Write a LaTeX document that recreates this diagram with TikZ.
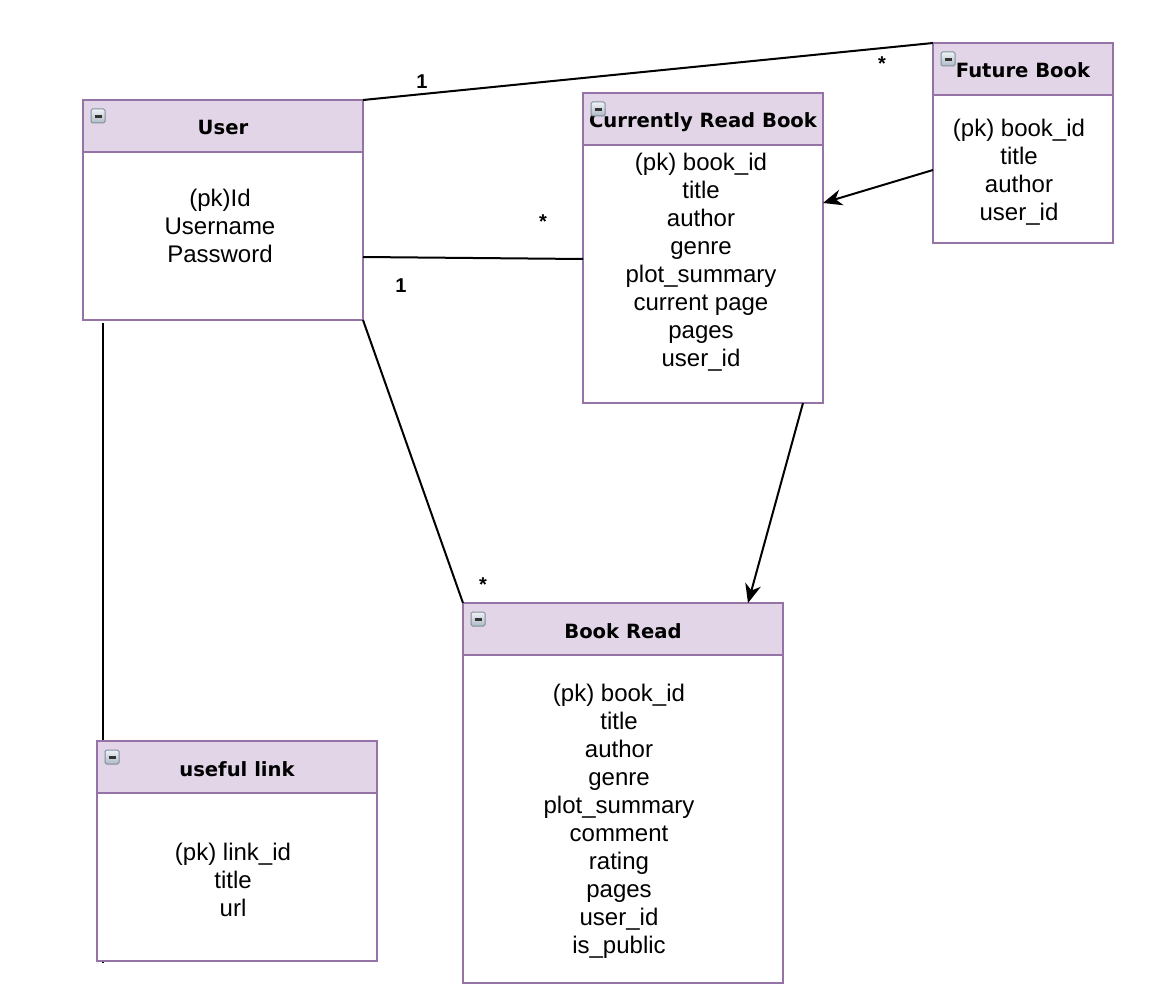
\documentclass[tikz,border=0pt]{standalone}
\usepackage{fontspec}
\setmainfont{Liberation Sans}
\newfontfamily\hdrfont{DejaVu Sans}
\usetikzlibrary{arrows.meta,backgrounds,calc}
\definecolor{hdrfill}{HTML}{E1D5E7}
\definecolor{hdrline}{HTML}{9673A6}
\definecolor{iconline}{HTML}{7F8E9C}
\definecolor{icontop}{HTML}{EEF2F6}
\definecolor{iconbot}{HTML}{AEBAC6}
\tikzset{
  entity/.style={rectangle, draw=hdrline, line width=2pt, fill=white, anchor=north west, inner sep=0pt, outer sep=0pt},
  header/.style={rectangle, draw=hdrline, line width=2pt, fill=hdrfill, anchor=north west, inner sep=0pt, outer sep=0pt, minimum height=52pt},
  title/.style={font=\hdrfont\bfseries\fontsize{19.6}{22}\selectfont, inner sep=0pt, anchor=base},
  body/.style={font=\fontsize{24}{28}\selectfont, align=center, inner sep=0pt},
  mult/.style={font=\bfseries\fontsize{20}{22}\selectfont, inner sep=0pt, anchor=base},
  conn/.style={line width=2pt, draw=black},
  arr/.style={conn, -{Stealth[length=19pt,width=16pt,inset=6pt]}},
  minus/.pic={
    \draw[rounded corners=1.5pt, draw=iconline, line width=1pt, top color=icontop, bottom color=iconbot] (0,0) rectangle (14,14);
    \draw[line width=2.4pt, black!80] (3.5,7.5) -- (10.5,7.5);
  }
}
\begin{document}
\begin{tikzpicture}[x=1pt,y=-1pt]
\useasboundingbox (0,0) rectangle (1156,1006);

% User
\node[entity, minimum width=280pt, minimum height=220pt] (user) at (83,100) {};
\node[header, minimum width=280pt] (userh) at (user.north west) {};
\pic at ($(user.north west)+(8,9)$) {minus};
\node[title] (usert) at ($(user.north)+(0,35)$) {User};
\node[body] (userb) at ($(user.north)+(-3,126)$) {(pk)Id\\Username\\Password};

% Currently Read Book
\node[entity, minimum width=240pt, minimum height=310pt] (crb) at (583,93) {};
\node[header, minimum width=240pt] (crbh) at (crb.north west) {};
\node[title] (crbt) at ($(crb.north)+(0,35)$) {Currently Read Book};
\pic at ($(crb.north west)+(8,9)$) {minus};
\node[body] (crbb) at ($(crb.north)+(-2,169)$) {(pk) book\_id\\title\\author\\genre\\plot\_summary\\current page\\pages\\user\_id};

% Future Book
\node[entity, minimum width=180pt, minimum height=200pt] (fb) at (933,43) {};
\node[header, minimum width=180pt] (fbh) at (fb.north west) {};
\node[title] (fbt) at ($(fb.north)+(0,35)$) {Future Book};
\pic at ($(fb.north west)+(8,9)$) {minus};
\node[body] (fbb) at ($(fb.north)+(-4,129)$) {(pk) book\_id\\title\\author\\user\_id};

% Book Read
\node[entity, minimum width=320pt, minimum height=380pt] (br) at (463,603) {};
\node[header, minimum width=320pt] (brh) at (br.north west) {};
\pic at ($(br.north west)+(8,9)$) {minus};
\node[title] (brt) at ($(br.north)+(0,35)$) {Book Read};
\node[body] (brb) at ($(br.north)+(-4,218)$) {(pk) book\_id\\title\\author\\genre\\plot\_summary\\comment\\rating\\pages\\user\_id\\is\_public};

% useful link
\node[entity, minimum width=280pt, minimum height=220pt] (ul) at (97,741) {};
\node[header, minimum width=280pt] (ulh) at (ul.north west) {};
\pic at ($(ul.north west)+(8,9)$) {minus};
\node[title] (ult) at ($(ul.north)+(0,35)$) {useful link};
\node[body] (ulb) at ($(ul.north)+(-4,139)$) {(pk) link\_id\\title\\url};

% connectors
\begin{scope}[on background layer]
\draw[conn] ([xshift=-120pt,yshift=-3pt]user.south) -- ([xshift=-134pt,yshift=-2pt]ul.south);
\end{scope}
\draw[conn] (user.north east) -- (fb.north west);
\draw[conn] ([yshift=-47pt]user.east) -- ([yshift=-11pt]crb.west);
\draw[conn] (user.south east) -- (br.north west);
\draw[arr] ([yshift=-27pt]fb.west) -- ([yshift=45pt]crb.east);
\draw[arr] ([xshift=100pt]crb.south) -- ([xshift=125pt]br.north);

% multiplicities
\node[mult] (m1) at (422,89) {1};
\node[mult] (m2) at (882,71) {*};
\node[mult] (m3) at (543,228.5) {*};
\node[mult] (m4) at (401,292) {1};
\node[mult] (m5) at (483,591) {*};
\end{tikzpicture}
\end{document}
